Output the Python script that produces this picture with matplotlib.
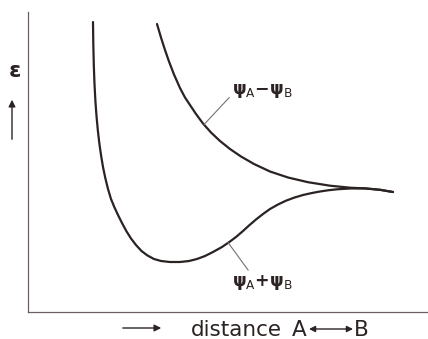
import matplotlib.pyplot as plt

# curves (distance, energy), arbitrary units
bond_x = [65, 65.3, 65.8, 66.5, 67.4, 68.5, 69.8, 71.3, 73, 75, 77.3, 80, 83, 86.3, 90,
          94, 98.3, 103, 108, 113.5, 119.5, 126, 133, 142, 152, 161, 169, 177, 185,
          194, 202, 208, 215, 221, 228, 235, 242, 250, 258, 266, 275, 284, 292, 300,
          309, 322, 337, 352, 365]
bond_y = [290, 268, 247, 228, 211, 196, 182, 169, 157, 145, 134, 123, 113, 105, 97,
          89, 81, 73.5, 67, 61, 56.5, 53, 51, 50, 50, 51, 53, 56, 60,
          65, 70.5, 75, 81, 86.5, 92.5, 98, 103, 107.5, 111.3, 114.3, 117, 119, 120.5, 121.7,
          122.7, 123.5, 123.6, 122.2, 120]

anti_x = [129, 133, 137, 141, 146, 152, 157, 162, 168, 175, 183, 192, 202, 213, 226,
          242, 260, 280, 302, 322, 337, 352, 365]
anti_y = [288, 274.5, 262, 250.5, 237.5, 224, 214.5, 207, 198, 188.5, 179.5, 171, 163,
          155.5, 148, 140.5, 134.5, 129.8, 126.3, 124.3, 123.6, 122.2, 120]

W, H = 428, 339
fig = plt.figure(figsize=(W / 100, H / 100), dpi=100)
ax = fig.add_axes([28 / W, (H - 312) / H, 400 / W, 300 / H])
ax.set_xlim(0, 400)
ax.set_ylim(0, 300)

ink = '#2b2222'
ax.plot(bond_x, bond_y, color=ink, lw=1.6, solid_capstyle='round',
        solid_joinstyle='round')
ax.plot(anti_x, anti_y, color=ink, lw=1.6, solid_capstyle='round',
        solid_joinstyle='round')

for s in ['top', 'right']:
    ax.spines[s].set_visible(False)
for s in ['left', 'bottom']:
    ax.spines[s].set_color('#6a6060')
    ax.spines[s].set_linewidth(0.9)
ax.set_xticks([])
ax.set_yticks([])

plt.rcParams['mathtext.fontset'] = 'dejavusans'

# labels with leader lines
ax.annotate(r'$\mathbf{\psi}_{\mathsf{A}}{\mathbf{-}}\mathbf{\psi}_{\mathsf{B}}$',
            xy=(176, 187.5), xytext=(204, 218), fontsize=12.5, color=ink,
            ha='left', va='baseline',
            arrowprops=dict(arrowstyle='-', color='#777070', lw=0.8,
                            shrinkA=0, shrinkB=0, relpos=(0, 0.3)))
ax.annotate(r'$\mathbf{\psi}_{\mathsf{A}}{\mathbf{+}}\mathbf{\psi}_{\mathsf{B}}$',
            xy=(200, 69.5), xytext=(204, 26), fontsize=12.5, color=ink,
            ha='left', va='baseline',
            arrowprops=dict(arrowstyle='-', color='#777070', lw=0.8,
                            shrinkA=0, shrinkB=0, relpos=(0.3, 1.0)))


def fx(px):
    return px / W


def fy(py):
    return 1 - py / H


# y axis label: epsilon with up arrow
fig.text(fx(15), fy(71), '\u03b5', fontsize=16, color=ink, ha='center', va='center',
         fontweight='bold')
ax.annotate('', xy=(fx(12), fy(97)), xytext=(fx(12), fy(142)),
            xycoords='figure fraction', textcoords='figure fraction',
            arrowprops=dict(arrowstyle='-|>', color=ink, lw=1.0, mutation_scale=10))

# x axis label
ax.annotate('', xy=(fx(164), fy(328)), xytext=(fx(120), fy(328)),
            xycoords='figure fraction', textcoords='figure fraction',
            arrowprops=dict(arrowstyle='-|>', color=ink, lw=1.0, mutation_scale=10))
fig.text(fx(236), fy(330), 'distance', fontsize=15.5, color=ink, ha='center',
         va='center')
fig.text(fx(292), fy(330), 'A', fontsize=15.5, color=ink, ha='left', va='center')
fig.text(fx(369), fy(330), 'B', fontsize=15.5, color=ink, ha='right', va='center')
ax.annotate('', xy=(fx(309), fy(329)), xytext=(fx(353), fy(329)),
            xycoords='figure fraction', textcoords='figure fraction',
            arrowprops=dict(arrowstyle='<|-|>', color=ink, lw=1.0, mutation_scale=9,
                            shrinkA=0, shrinkB=0))

fig.savefig('out.png', dpi=100)
